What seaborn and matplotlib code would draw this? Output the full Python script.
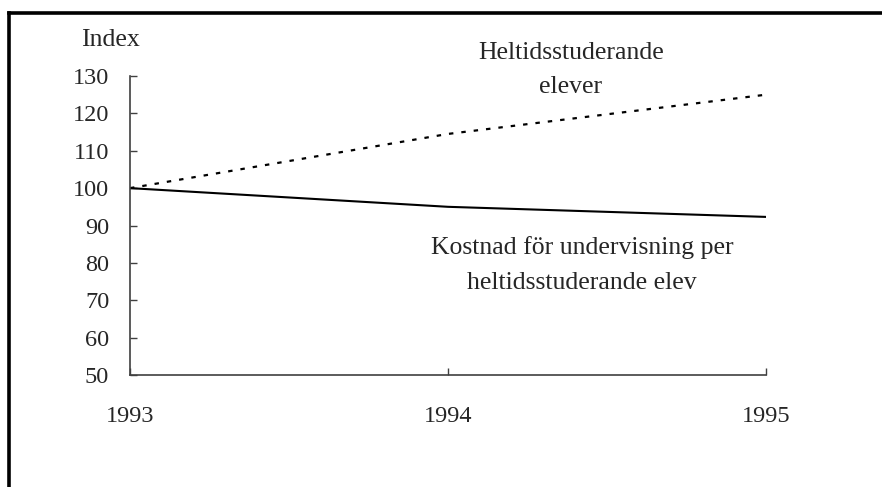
import matplotlib
matplotlib.use("Agg")
import matplotlib.pyplot as plt
from matplotlib.lines import Line2D
import seaborn as sns
import pandas as pd

years = [1993, 1994, 1995]
heltids = [100, 114.5, 125]
kostnad = [100, 95, 92.3]
yticks = [50, 60, 70, 80, 90, 100, 110, 120, 130]

sns.set_style("white")
plt.rcParams['font.family'] = ['Liberation Serif', 'DejaVu Serif']

fig = plt.figure(figsize=(8.82, 4.87), dpi=100)
ax = fig.add_axes([130/882, 1-375/487, (766-130)/882, (375-76)/487])

df1 = pd.DataFrame({"year": years, "value": heltids})
df2 = pd.DataFrame({"year": years, "value": kostnad})
sns.lineplot(data=df1, x="year", y="value", ax=ax, color="black", lw=1.6,
             linestyle=(0, (2.0, 3.6)))
sns.lineplot(data=df2, x="year", y="value", ax=ax, color="black", lw=1.5)

ax.set_xlim(1993, 1995)
ax.set_ylim(50, 130)
ax.set_xticks(years)
ax.set_xticklabels([str(y) for y in years])
ax.set_yticks(yticks)
ax.set_yticklabels([str(v) for v in yticks])
ax.set_xlabel("")
ax.set_ylabel("")
for s in ["top", "right"]:
    ax.spines[s].set_visible(False)
for s in ["left", "bottom"]:
    ax.spines[s].set_color("#404040")
    ax.spines[s].set_linewidth(1.2)
ax.tick_params(axis="y", direction="in", length=5, width=1, color="#404040",
               labelsize=17.5, pad=15, left=True)
ax.tick_params(axis="x", direction="in", length=5, width=1, color="#404040",
               labelsize=17.5, pad=22, bottom=True)
ax.grid(False)

fig.text(110/882, 1-40/487, "Index", ha="center", va="center", fontsize=18.5)
fig.text(571/882, 1-70/487, "Heltidsstuderande\nelever", ha="center", va="center",
         fontsize=18.5, linespacing=1.75)
fig.text(582/882, 1-265/487, "Kostnad för undervisning per\nheltidsstuderande elev",
         ha="center", va="center", fontsize=18.5, linespacing=1.75)

# outer frame (cut off at right and bottom)
fig.add_artist(Line2D([8.5/882, 8.5/882], [1-13/487, 0], transform=fig.transFigure,
                      color="black", lw=2.6, solid_capstyle="projecting"))
fig.add_artist(Line2D([8.5/882, 1], [1-13/487, 1-13/487], transform=fig.transFigure,
                      color="black", lw=2.6, solid_capstyle="projecting"))

fig.savefig("out.png", dpi=100)
